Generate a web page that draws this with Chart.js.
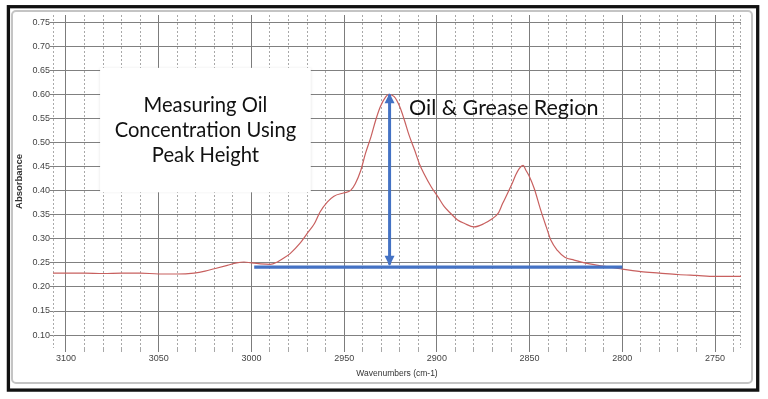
<!DOCTYPE html>
<html>
<head>
<meta charset="utf-8">
<script src="https://cdn.jsdelivr.net/npm/chart.js@4.4.1/dist/chart.umd.min.js"></script>
<style>
  html, body { margin: 0; padding: 0; background: #fff; }
  #wrap { width: 768px; height: 399px; }
</style>
</head>
<body>
<div id="wrap"><canvas id="myChart"></canvas></div>
<script>
// spectrum (wavenumber cm-1 -> absorbance)
const wavenumbers = [3107, 3100, 3090, 3080, 3070, 3060, 3050, 3040, 3031, 3025,
  3020, 3013, 3008, 3004, 3000, 2995, 2990, 2986, 2983, 2979,
  2974, 2970, 2966, 2963, 2959, 2955.5, 2950, 2946.5, 2944, 2941,
  2938.5, 2935.5, 2933, 2930.5, 2927.5, 2926, 2923, 2920, 2917.5, 2915,
  2912, 2909.5, 2907, 2903, 2899.5, 2896, 2892.5, 2889, 2885, 2880,
  2874.5, 2871, 2867, 2864.5, 2862, 2859, 2857.5, 2855.5, 2853.5, 2852,
  2850, 2847.5, 2844, 2841, 2838.5, 2835, 2831, 2826, 2819, 2808,
  2800, 2790, 2780, 2770, 2760, 2750, 2740, 2736];
const absorbance = [0.229, 0.229, 0.229, 0.228, 0.229, 0.229, 0.227, 0.227, 0.229, 0.233,
  0.238, 0.245, 0.250, 0.252, 0.250, 0.248, 0.247, 0.252, 0.259, 0.270,
  0.290, 0.311, 0.332, 0.356, 0.377, 0.389, 0.396, 0.401, 0.415, 0.443,
  0.478, 0.513, 0.547, 0.575, 0.596, 0.601, 0.596, 0.575, 0.547, 0.516,
  0.485, 0.457, 0.436, 0.408, 0.388, 0.367, 0.353, 0.340, 0.332, 0.325,
  0.332, 0.340, 0.353, 0.374, 0.394, 0.419, 0.433, 0.447, 0.453, 0.443,
  0.429, 0.405, 0.360, 0.325, 0.297, 0.276, 0.262, 0.256, 0.249, 0.242,
  0.237, 0.232, 0.229, 0.226, 0.224, 0.222, 0.222, 0.222];

// baseline and peak height arrow
const baselineX = [2998.5, 2800];
const baselineY = [0.2415, 0.2415];
const arrowX = [2925.5, 2925.5];
const arrowY = [0.2465, 0.601];

const yTickValues = [0.10, 0.15, 0.20, 0.25, 0.30, 0.35, 0.40, 0.45, 0.50, 0.55, 0.60, 0.65, 0.70, 0.75];
const xTickLabels = [3100, 3050, 3000, 2950, 2900, 2850, 2800, 2750];

const xGrid = [];
for (let v = 3100; v >= 2740; v -= 10) xGrid.push(v);

function pts(xs, ys) {
  return xs.map((x, i) => ({ x: x, y: ys[i] }));
}

const blue = '#4472C4';
const textBox = { x1: 3081.6, x2: 2968, y1: 0.656, y2: 0.397,
  lines: ['Measuring Oil', 'Concentration Using', 'Peak Height'] };
const regionLabel = { x: 2915, y: 0.572, text: 'Oil & Grease Region' };

const framePlugin = {
  id: 'frame',
  beforeDraw(chart) {
    const c = chart.ctx;
    c.save();
    c.fillStyle = '#fff';
    c.fillRect(0, 0, chart.width, chart.height);
    c.strokeStyle = '#c4c4c4';
    c.lineWidth = 2;
    c.beginPath();
    c.roundRect(12, 11, 740, 372, 4);
    c.stroke();
    c.strokeStyle = '#111';
    c.lineWidth = 3.3;
    c.strokeRect(8.4, 6.7, 749.3, 383.4);
    c.restore();
  },
  beforeDatasetsDraw(chart) {
    const c = chart.ctx;
    const xs = chart.scales.x, ys = chart.scales.y;
    const a = chart.chartArea;
    c.save();
    // dotted plot edges
    c.strokeStyle = '#aaa';
    c.lineWidth = 1;
    c.setLineDash([2, 2]);
    c.beginPath();
    c.moveTo(a.left + 0.5, a.top); c.lineTo(a.left + 0.5, a.bottom);
    c.moveTo(a.right - 0.5, a.top); c.lineTo(a.right - 0.5, a.bottom);
    c.stroke();
    c.setLineDash([]);
    // white text box
    const bx1 = xs.getPixelForValue(textBox.x1), bx2 = xs.getPixelForValue(textBox.x2);
    const by1 = ys.getPixelForValue(textBox.y1), by2 = ys.getPixelForValue(textBox.y2);
    c.shadowColor = 'rgba(0,0,0,0.12)';
    c.shadowBlur = 3;
    c.fillStyle = '#fff';
    c.fillRect(bx1, by1, bx2 - bx1, by2 - by1);
    c.shadowBlur = 0;
    c.fillStyle = '#111';
    c.font = '20.2px Lato';
    c.textAlign = 'center';
    c.textBaseline = 'middle';
    const cx = (bx1 + bx2) / 2, cy = (by1 + by2) / 2;
    textBox.lines.forEach((t, i) => c.fillText(t, cx, cy + (i - 1) * 25));
    c.font = '21.5px Lato';
    c.textAlign = 'left';
    c.fillText(regionLabel.text, xs.getPixelForValue(regionLabel.x), ys.getPixelForValue(regionLabel.y));
    c.restore();
  },
  afterDatasetsDraw(chart) {
    // arrow heads on the peak height arrow
    const meta = chart.getDatasetMeta(1);
    const p0 = meta.data[0], p1 = meta.data[1];
    const c = chart.ctx;
    c.save();
    c.fillStyle = blue;
    const head = (tipX, tipY, dir) => {
      c.beginPath();
      c.moveTo(tipX, tipY);
      c.lineTo(tipX - 5, tipY + dir * 10);
      c.lineTo(tipX + 5, tipY + dir * 10);
      c.closePath();
      c.fill();
    };
    head(p1.x, p1.y - 1, 1);
    head(p0.x, p0.y + 1, -1);
    c.restore();
  }
};

const ctx = document.getElementById('myChart');

new Chart(ctx, {
  type: 'scatter',
  data: {
    datasets: [{
      label: 'Baseline',
      data: pts(baselineX, baselineY),
      showLine: true,
      borderColor: blue,
      borderWidth: 3.2,
      pointRadius: 0,
      order: 1
    }, {
      label: 'Peak height',
      data: pts(arrowX, arrowY),
      showLine: true,
      borderColor: blue,
      borderWidth: 3,
      pointRadius: 0,
      order: 1
    }, {
      label: 'Absorbance',
      data: pts(wavenumbers, absorbance),
      showLine: true,
      borderColor: '#c8605f',
      borderWidth: 1.2,
      pointRadius: 0,
      cubicInterpolationMode: 'monotone',
      order: 2
    }]
  },
  options: {
    responsive: true,
    maintainAspectRatio: false,
    animation: false,
    layout: { padding: { left: 6, right: 27, top: 15, bottom: 17 } },
    plugins: {
      legend: { display: false },
      tooltip: { enabled: false }
    },
    scales: {
      x: {
        type: 'linear',
        reverse: true,
        min: 2736,
        max: 3107,
        afterBuildTicks: (scale) => { scale.ticks = xGrid.map(v => ({ value: v })); },
        afterFit: (scale) => { scale.height = 34; },
        ticks: {
          autoSkip: false,
          maxRotation: 0,
          padding: 1,
          color: '#444',
          font: { family: 'Liberation Sans', size: 9 },
          callback: (v) => xTickLabels.includes(v) ? String(v) : ''
        },
        grid: {
          color: (c) => (c.tick && c.tick.value % 50 === 0) ? '#7c7c7c' : '#a8a8a8',
          tickLength: 4
        },
        border: {
          display: false,
          dash: (c) => (c.tick && c.tick.value % 50 !== 0) ? [2, 2] : []
        },
        title: {
          display: true,
          text: 'Wavenumbers (cm-1)',
          color: '#333',
          font: { family: 'Liberation Sans', size: 8.5 },
          padding: { top: 0, bottom: 3 }
        }
      },
      y: {
        type: 'linear',
        min: 0.073,
        max: 0.766,
        afterBuildTicks: (scale) => { scale.ticks = yTickValues.map(v => ({ value: v })); },
        afterFit: (scale) => { scale.width = 47; },
        ticks: {
          padding: 0,
          color: '#444',
          font: { family: 'Liberation Sans', size: 9 },
          callback: (v) => v.toFixed(2)
        },
        grid: {
          color: '#808080',
          tickLength: 3
        },
        border: { display: false },
        title: {
          display: true,
          text: 'Absorbance',
          color: '#333',
          font: { family: 'Liberation Sans', size: 9.5, weight: 'bold' },
          padding: { top: 8, bottom: 0 }
        }
      }
    }
  },
  plugins: [framePlugin]
});
</script>
</body>
</html>
